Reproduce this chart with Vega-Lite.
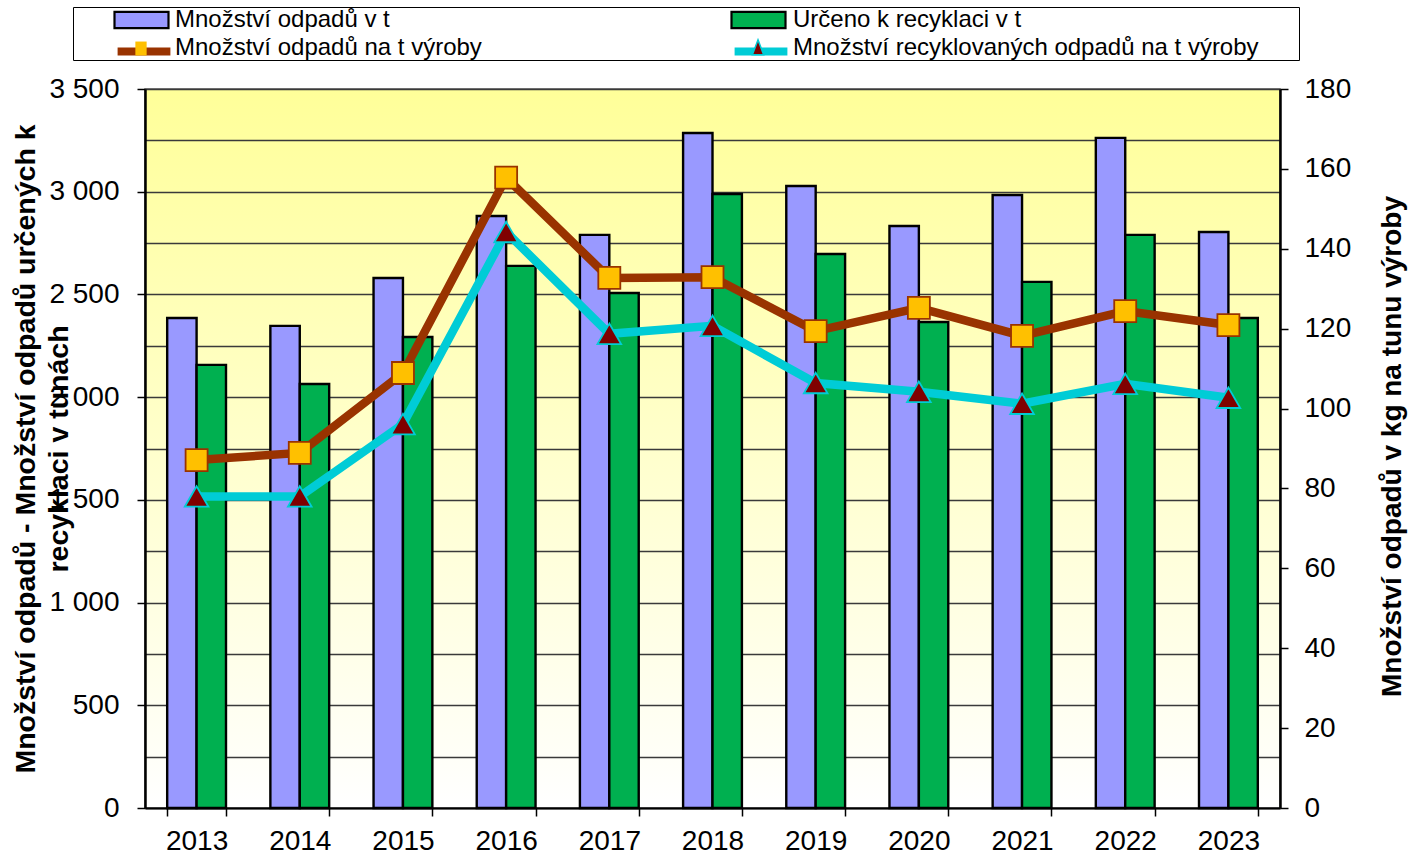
{
  "$schema": "https://vega.github.io/schema/vega-lite/v6.json",
  "width": 1135,
  "height": 719,
  "autosize": {"type": "none"},
  "padding": {"left": 145, "top": 89, "right": 139, "bottom": 49},
  "background": "#ffffff",
  "config": {
    "font": "Liberation Sans",
    "view": {
      "fill": {"gradient": "linear", "x1": 0, "y1": 0, "x2": 0, "y2": 1,
        "stops": [{"offset": 0, "color": "#FFFF99"}, {"offset": 1, "color": "#FFFFFF"}]},
      "stroke": "#555555",
      "strokeWidth": 1.5
    },
    "axis": {"labelFont": "Liberation Sans", "titleFont": "Liberation Sans", "labelColor": "#000000", "titleColor": "#000000"},
    "legend": {"labelFont": "Liberation Sans", "titleFont": "Liberation Sans", "symbolSize": 576, "symbolOffset": 40, "labelOffset": 36, "padding": 0, "rowPadding": 0, "labelLimit": 800, "labelFontSize": 24, "labelColor": "#000000", "orient": "none", "title": null}
  },
  "data": {"values": [
    {"year": "2013", "series": "Množství odpadů v t", "value": 2385},
    {"year": "2013", "series": "Určeno k recyklaci v t", "value": 2157},
    {"year": "2013", "series": "Množství odpadů na t výroby", "value": 87.1},
    {"year": "2013", "series": "Množství recyklovaných odpadů na t výroby", "value": 78.0},
    {"year": "2014", "series": "Množství odpadů v t", "value": 2347},
    {"year": "2014", "series": "Určeno k recyklaci v t", "value": 2064},
    {"year": "2014", "series": "Množství odpadů na t výroby", "value": 88.9},
    {"year": "2014", "series": "Množství recyklovaných odpadů na t výroby", "value": 78.0},
    {"year": "2015", "series": "Množství odpadů v t", "value": 2580},
    {"year": "2015", "series": "Určeno k recyklaci v t", "value": 2293},
    {"year": "2015", "series": "Množství odpadů na t výroby", "value": 108.9},
    {"year": "2015", "series": "Množství recyklovaných odpadů na t výroby", "value": 96.1},
    {"year": "2016", "series": "Množství odpadů v t", "value": 2882},
    {"year": "2016", "series": "Určeno k recyklaci v t", "value": 2639},
    {"year": "2016", "series": "Množství odpadů na t výroby", "value": 157.8},
    {"year": "2016", "series": "Množství recyklovaných odpadů na t výroby", "value": 144.2},
    {"year": "2017", "series": "Množství odpadů v t", "value": 2790},
    {"year": "2017", "series": "Určeno k recyklaci v t", "value": 2507},
    {"year": "2017", "series": "Množství odpadů na t výroby", "value": 132.7},
    {"year": "2017", "series": "Množství recyklovaných odpadů na t výroby", "value": 118.7},
    {"year": "2018", "series": "Množství odpadů v t", "value": 3286},
    {"year": "2018", "series": "Určeno k recyklaci v t", "value": 2989},
    {"year": "2018", "series": "Množství odpadů na t výroby", "value": 132.9},
    {"year": "2018", "series": "Množství recyklovaných odpadů na t výroby", "value": 120.7},
    {"year": "2019", "series": "Množství odpadů v t", "value": 3028},
    {"year": "2019", "series": "Určeno k recyklaci v t", "value": 2697},
    {"year": "2019", "series": "Množství odpadů na t výroby", "value": 119.4},
    {"year": "2019", "series": "Množství recyklovaných odpadů na t výroby", "value": 106.4},
    {"year": "2020", "series": "Množství odpadů v t", "value": 2833},
    {"year": "2020", "series": "Určeno k recyklaci v t", "value": 2366},
    {"year": "2020", "series": "Množství odpadů na t výroby", "value": 125.2},
    {"year": "2020", "series": "Množství recyklovaných odpadů na t výroby", "value": 104.2},
    {"year": "2021", "series": "Množství odpadů v t", "value": 2984},
    {"year": "2021", "series": "Určeno k recyklaci v t", "value": 2561},
    {"year": "2021", "series": "Množství odpadů na t výroby", "value": 118.2},
    {"year": "2021", "series": "Množství recyklovaných odpadů na t výroby", "value": 101.2},
    {"year": "2022", "series": "Množství odpadů v t", "value": 3262},
    {"year": "2022", "series": "Určeno k recyklaci v t", "value": 2790},
    {"year": "2022", "series": "Množství odpadů na t výroby", "value": 124.4},
    {"year": "2022", "series": "Množství recyklovaných odpadů na t výroby", "value": 106.2},
    {"year": "2023", "series": "Množství odpadů v t", "value": 2804},
    {"year": "2023", "series": "Určeno k recyklaci v t", "value": 2385},
    {"year": "2023", "series": "Množství odpadů na t výroby", "value": 120.9},
    {"year": "2023", "series": "Množství recyklovaných odpadů na t výroby", "value": 102.7}
  ]},
  "encoding": {
    "x": {
      "field": "year", "type": "ordinal",
      "scale": {"paddingInner": 0.43, "paddingOuter": 0.215},
      "axis": {
        "title": null, "labelAngle": 0, "labelFontSize": 28, "labelPadding": 11,
        "tickBand": "extent", "tickSize": 8, "tickColor": "#000000", "tickWidth": 1.5,
        "domainColor": "#000000", "domainWidth": 2, "grid": false
      }
    }
  },
  "layer": [
    {
      "transform": [{"filter": {"field": "series", "equal": "Množství odpadů v t"}}],
      "mark": {"type": "bar", "stroke": "#000000", "strokeWidth": 2.4},
      "encoding": {
        "xOffset": {"field": "series", "type": "nominal", "scale": {"domain": ["Množství odpadů v t", "Určeno k recyklaci v t"], "paddingInner": 0, "paddingOuter": 0}},
        "y": {
          "field": "value", "type": "quantitative",
          "scale": {"domain": [0, 3500], "nice": false},
          "axis": {
            "orient": "left",
            "values": [0, 250, 500, 750, 1000, 1250, 1500, 1750, 2000, 2250, 2500, 2750, 3000, 3250, 3500],
            "grid": true, "gridColor": "#3a3a3a", "gridWidth": 1.3,
            "domainColor": "#000000", "domainWidth": 2.5,
            "tickSize": 8, "tickWidth": 1.5,
            "tickColor": {"condition": {"test": "datum.value % 500 === 0", "value": "#000000"}, "value": "transparent"},
            "labelExpr": "datum.value % 500 === 0 ? replace(datum.label, ',', ' ') : ''",
            "labelOverlap": false, "labelFontSize": 28, "labelPadding": 18,
            "title": ["Množství odpadů - Množství odpadů určených k", "recyklaci v tunách"],
            "titleFontSize": 28.5, "titleFontWeight": "bold", "titleAngle": 270,
            "titleX": -111, "titleY": 359.5, "titleBaseline": "alphabetic", "titleAlign": "center",
            "titleLineHeight": 33
          }
        },
        "fill": {
          "field": "series", "type": "nominal",
          "scale": {"domain": ["Množství odpadů v t"], "range": ["#9999FF"]},
          "legend": {
            "legendX": -72, "legendY": -82.5, "labelExpr": "''", "zindex": 1,
            "symbolType": "M-1,-0.67H3.5V0.67H-1Z",
            "symbolStrokeColor": "#000000", "symbolStrokeWidth": 2.2
          }
        }
      }
    },
    {
      "transform": [{"filter": {"field": "series", "equal": "Určeno k recyklaci v t"}}],
      "mark": {"type": "bar", "stroke": "#000000", "strokeWidth": 2.4},
      "encoding": {
        "xOffset": {"field": "series", "type": "nominal", "scale": {"domain": ["Množství odpadů v t", "Určeno k recyklaci v t"], "paddingInner": 0, "paddingOuter": 0}},
        "y": {"field": "value", "type": "quantitative", "scale": {"domain": [0, 3500], "nice": false}, "axis": null},
        "fill": {
          "field": "series", "type": "nominal",
          "scale": {"domain": ["Určeno k recyklaci v t"], "range": ["#00B050"]},
          "legend": {
            "legendX": 545, "legendY": -82.5, "labelExpr": "''", "zindex": 1,
            "symbolType": "M-1,-0.67H3.5V0.67H-1Z",
            "symbolStrokeColor": "#000000", "symbolStrokeWidth": 2.2
          }
        }
      }
    },
    {
      "transform": [{"filter": {"field": "series", "equal": "Množství odpadů na t výroby"}}],
      "mark": {"type": "line", "strokeWidth": 8.5},
      "encoding": {
        "y": {
          "field": "value", "type": "quantitative",
          "scale": {"domain": [0, 180], "nice": false},
          "axis": {
            "orient": "right",
            "values": [0, 20, 40, 60, 80, 100, 120, 140, 160, 180],
            "grid": false, "domainColor": "#000000", "domainWidth": 2.5,
            "tickSize": 8, "tickWidth": 1.5, "tickColor": "#000000",
            "labelFontSize": 28, "labelPadding": 16,
            "title": "Množství odpadů v kg na tunu výroby",
            "titleFontSize": 28, "titleFontWeight": "bold", "titleAngle": 270,
            "titleX": 120, "titleY": 357, "titleBaseline": "alphabetic", "titleAlign": "center"
          }
        },
        "stroke": {
          "field": "series", "type": "nominal",
          "scale": {"domain": ["Množství odpadů na t výroby"], "range": ["#993300"]},
          "legend": {
            "legendX": -72, "legendY": -53.5, "labelExpr": "''", "zindex": 2,
            "symbolType": "M-0.95,0H3.45",
            "symbolStrokeWidth": 8, "symbolFillColor": "transparent"
          }
        }
      }
    },
    {
      "transform": [{"filter": {"field": "series", "equal": "Množství recyklovaných odpadů na t výroby"}}],
      "mark": {"type": "line", "strokeWidth": 8.5},
      "encoding": {
        "y": {"field": "value", "type": "quantitative", "scale": {"domain": [0, 180], "nice": false}, "axis": null},
        "stroke": {
          "field": "series", "type": "nominal",
          "scale": {"domain": ["Množství recyklovaných odpadů na t výroby"], "range": ["#00CCD6"]},
          "legend": {
            "legendX": 545, "legendY": -53.5, "labelExpr": "''", "zindex": 2,
            "symbolType": "M-0.95,0H3.45",
            "symbolStrokeWidth": 8, "symbolFillColor": "transparent"
          }
        }
      }
    },
    {
      "transform": [{"filter": {"field": "series", "equal": "Množství odpadů na t výroby"}}],
      "mark": {"type": "point", "shape": "square", "filled": true, "fill": "#FFC000", "stroke": "#993300", "strokeWidth": 1.8, "size": 484},
      "encoding": {
        "y": {"field": "value", "type": "quantitative", "scale": {"domain": [0, 180], "nice": false}, "axis": null},
        "opacity": {
          "field": "series", "type": "ordinal",
          "scale": {"domain": ["Množství odpadů na t výroby"], "range": [1, 1]},
          "legend": {
            "legendX": -72, "legendY": -53.5, "labelExpr": "''", "zindex": 3,
            "symbolType": "M0.78,-0.58H1.72V0.58H0.78Z",
            "symbolFillColor": "#FFC000", "symbolStrokeColor": "#993300", "symbolStrokeWidth": 1.5
          }
        }
      }
    },
    {
      "transform": [{"filter": {"field": "series", "equal": "Množství recyklovaných odpadů na t výroby"}}],
      "mark": {"type": "point", "shape": "triangle-up", "filled": true, "stroke": "#00CCD6", "strokeWidth": 1.8, "size": 560},
      "encoding": {
        "y": {"field": "value", "type": "quantitative", "scale": {"domain": [0, 180], "nice": false}, "axis": null},
        "color": {
          "field": "series", "type": "nominal",
          "scale": {
            "domain": ["Množství odpadů v t", "Určeno k recyklaci v t", "Množství odpadů na t výroby", "Množství recyklovaných odpadů na t výroby"],
            "range": ["#9999FF", "#00B050", "#993300", "#800000"]
          },
          "legend": {
            "legendX": -72, "legendY": -82, "zindex": 0,
            "title": " ", "titleOrient": "right", "titlePadding": 40, "titleFontSize": 24,
            "columns": 2, "direction": "horizontal", "columnPadding": 209, "rowPadding": 3,
            "strokeColor": "#000000", "symbolOpacity": 0
          }
        },
        "opacity": {
          "field": "series", "type": "ordinal",
          "scale": {"domain": ["Množství recyklovaných odpadů na t výroby"], "range": [1, 1]},
          "legend": {
            "legendX": 545, "legendY": -53.5, "labelExpr": "''", "zindex": 3,
            "symbolType": "M1.25,-0.72L1.72,0.52H0.78Z",
            "symbolFillColor": "#800000", "symbolStrokeColor": "#00CCD6", "symbolStrokeWidth": 1.5
          }
        }
      }
    }
  ],
  "resolve": {"scale": {"y": "independent", "fill": "independent", "stroke": "independent", "opacity": "independent"}}
}
